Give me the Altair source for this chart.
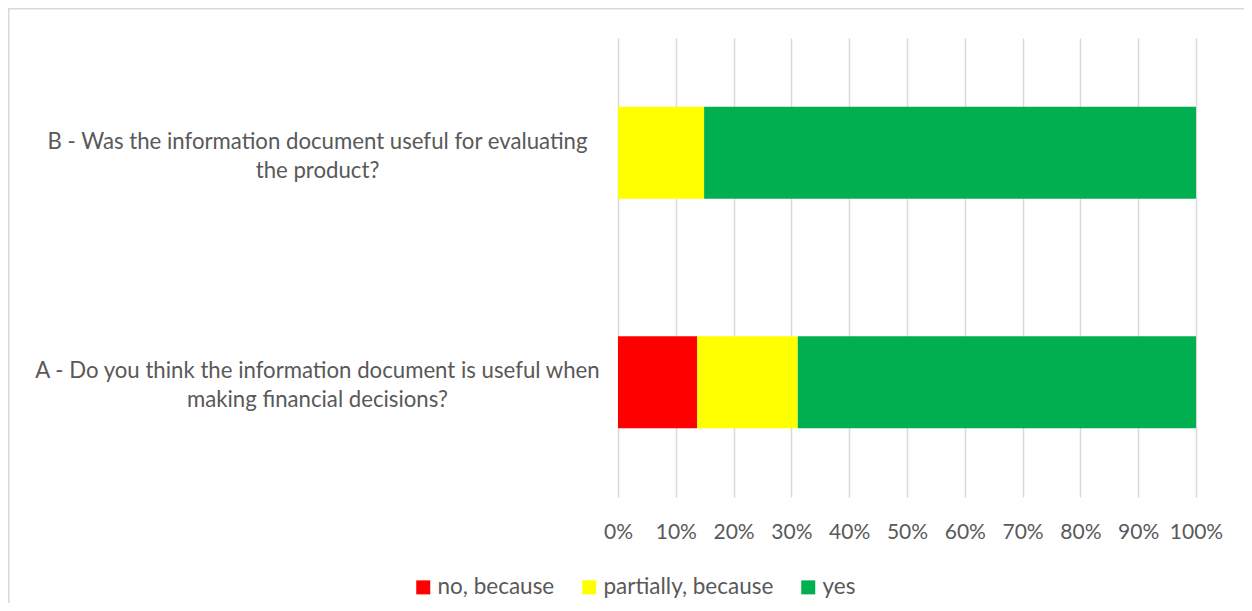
import altair as alt
import pandas as pd

questions = [
    "B - Was the information document useful for evaluating\nthe product?",
    "A - Do you think the information document is useful when\nmaking financial decisions?",
]
answers = ["no, because", "partially, because", "yes"]
no_vals = [0.0, 13.7]
partial_vals = [14.9, 17.4]
yes_vals = [85.1, 68.9]
colors = ["#FF0000", "#FFFF00", "#00B050"]

rows = []
for i, q in enumerate(questions):
    for j, (a, vals) in enumerate(zip(answers, [no_vals, partial_vals, yes_vals])):
        rows.append({"question": q, "answer": a, "value": vals[i], "order": j})
df = pd.DataFrame(rows)

FONT = "Lato"
TXT = "#595959"
GRID = "#D9D9D9"

bars = alt.Chart(df).mark_bar(size=92).encode(
    y=alt.Y(
        "question:N",
        sort=questions,
        scale=alt.Scale(paddingInner=0.6, paddingOuter=0.3),
        axis=alt.Axis(
            title=None,
            domain=False,
            ticks=False,
            tickSize=0,
            grid=False,
            labelExpr="split(datum.label, '\\n')",
            labelAlign="center",
            labelBaseline="middle",
            labelPadding=301,
            labelOffset=-11,
            labelLineHeight=29,
            labelFontSize=22.2,
            labelFont=FONT,
            labelColor=TXT,
            labelLimit=800,
        ),
    ),
    x=alt.X(
        "value:Q",
        stack="normalize",
        scale=alt.Scale(domain=[0, 1], nice=False),
        axis=alt.Axis(
            title=None,
            format=".0%",
            values=[i / 10 for i in range(11)],
            domain=False,
            ticks=False,
            tickSize=0,
            grid=True,
            gridColor=GRID,
            gridWidth=1.5,
            labelPadding=24,
            labelFontSize=21,
            labelFont=FONT,
            labelColor=TXT,
            labelFlush=False,
        ),
    ),
    color=alt.Color(
        "answer:N",
        scale=alt.Scale(domain=answers, range=colors),
        legend=alt.Legend(
            title=None,
            orient="none",
            direction="horizontal",
            legendX=-206,
            legendY=538,
            symbolType="square",
            symbolSize=196,
            symbolStrokeWidth=0,
            symbolOpacity=1,
            labelFontSize=22.5,
            labelFont=FONT,
            labelColor=TXT,
            labelOffset=3,
            columnPadding=23,
            labelLimit=400,
        ),
    ),
    order=alt.Order("order:Q", sort="ascending"),
)

one = alt.Data(values=[{}])
top_border = alt.Chart(one).mark_rule(color=GRID, strokeWidth=1.5).encode(
    x=alt.value(-610), x2=alt.value(626), y=alt.value(-29.25)
)
left_border = alt.Chart(one).mark_rule(color=GRID, strokeWidth=1.5).encode(
    x=alt.value(-609.25), y=alt.value(-30), y2=alt.value(570)
)

chart = alt.layer(top_border, left_border, bars).properties(
    width=578,
    height=459,
    autosize=alt.AutoSizeParams(type="none"),
    padding={"left": 610, "top": 30, "right": 48, "bottom": 106},
    background="white",
).configure_view(stroke=None)

chart.save("out.html", embed_options={"renderer": "svg", "actions": False})
